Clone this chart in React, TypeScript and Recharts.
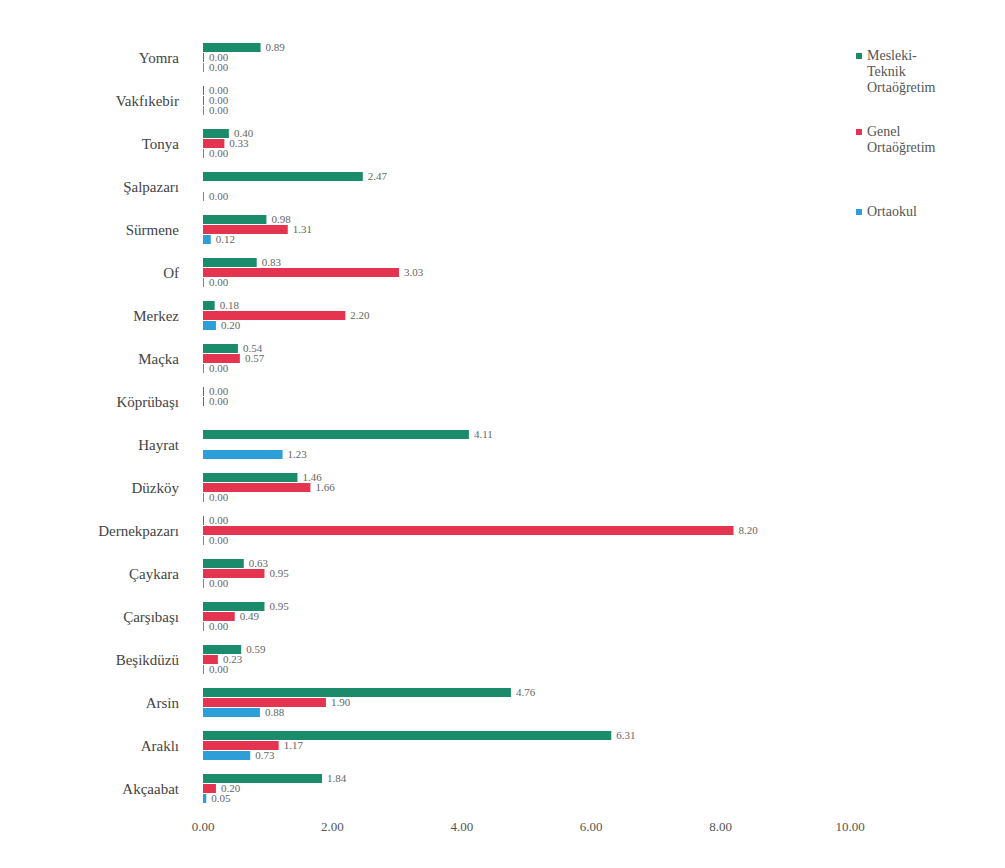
import { BarChart, Bar, XAxis, YAxis, LabelList } from "recharts";

const districts = [
  "Yomra", "Vakfıkebir", "Tonya", "Şalpazarı", "Sürmene", "Of", "Merkez", "Maçka", "Köprübaşı",
  "Hayrat", "Düzköy", "Dernekpazarı", "Çaykara", "Çarşıbaşı", "Beşikdüzü", "Arsin", "Araklı", "Akçaabat",
];
const mesleki = [0.89, 0, 0.4, 2.47, 0.98, 0.83, 0.18, 0.54, 0, 4.11, 1.46, 0, 0.63, 0.95, 0.59, 4.76, 6.31, 1.84];
const genel = [0, 0, 0.33, null, 1.31, 3.03, 2.2, 0.57, 0, null, 1.66, 8.2, 0.95, 0.49, 0.23, 1.9, 1.17, 0.2];
const ortaokul = [0, 0, 0, 0, 0.12, 0, 0.2, 0, null, 1.23, 0, 0, 0, 0, 0, 0.88, 0.73, 0.05];
const xTicks = [0, 2, 4, 6, 8, 10];

const GREEN = "#1b8c6b";
const RED = "#e5344f";
const BLUE = "#2c9fd8";

const data = districts.map((name, i) => ({
  name,
  mesleki: mesleki[i],
  genel: genel[i],
  ortaokul: ortaokul[i],
}));

const fmt = (v: any) => (v === null || v === undefined ? "" : Number(v).toFixed(2));
// zero values still get a hairline so their "0.00" label is drawn
const minSize = (v: any) => (v === 0 ? 1 : 0);

const legendItems = [
  { color: GREEN, lines: ["Mesleki-", "Teknik", "Ortaöğretim"], h: 76 },
  { color: RED, lines: ["Genel", "Ortaöğretim"], h: 80 },
  { color: BLUE, lines: ["Ortaokul"], h: 20 },
];

// legend kept outside the chart so it does not eat plot width
function ChartLegend() {
  return (
    <div
      style={{
        position: "absolute",
        left: 856,
        top: 48,
        width: 145,
        fontFamily: "Liberation Serif",
        fontSize: 14,
        color: "#555",
      }}
    >
      {legendItems.map((it) => (
        <div key={it.lines[0]} style={{ display: "flex", height: it.h, lineHeight: "16px" }}>
          <span
            style={{
              width: 6,
              height: 6,
              background: it.color,
              marginTop: 5,
              marginRight: 5,
              flexShrink: 0,
            }}
          />
          <div>
            {it.lines.map((l) => (
              <div key={l}>{l}</div>
            ))}
          </div>
        </div>
      ))}
    </div>
  );
}

const labelStyle = { fill: "#666", fontSize: 11, fontFamily: "Liberation Serif" };

export default function App() {
  return (
    <div
      style={{
        margin: -8,
        width: 1005,
        height: 868,
        background: "#fff",
        position: "relative",
      }}
    >
      <BarChart
        width={1005}
        height={868}
        data={data}
        layout="vertical"
        margin={{ top: 36, right: 155, left: 0, bottom: 28 }}
        barSize={9}
        barGap={1}
      >
        <XAxis
          type="number"
          domain={[0, 10]}
          ticks={xTicks}
          tickFormatter={(v) => Number(v).toFixed(2)}
          axisLine={false}
          tickLine={false}
          tick={{ fill: "#555", fontSize: 13, fontFamily: "Liberation Serif" }}
          tickMargin={6}
        />
        <YAxis
          type="category"
          dataKey="name"
          width={203}
          axisLine={false}
          tickLine={false}
          tickMargin={18}
          interval={0}
          tick={{ fill: "#444", fontSize: 15, fontFamily: "Liberation Serif" }}
        />
        <Bar dataKey="mesleki" fill={GREEN} minPointSize={minSize} isAnimationActive={false}>
          <LabelList dataKey="mesleki" position="right" formatter={fmt} style={labelStyle} />
        </Bar>
        <Bar dataKey="genel" fill={RED} minPointSize={minSize} isAnimationActive={false}>
          <LabelList dataKey="genel" position="right" formatter={fmt} style={labelStyle} />
        </Bar>
        <Bar dataKey="ortaokul" fill={BLUE} minPointSize={minSize} isAnimationActive={false}>
          <LabelList dataKey="ortaokul" position="right" formatter={fmt} style={labelStyle} />
        </Bar>
      </BarChart>
      <ChartLegend />
      <div
        style={{
          position: "absolute",
          left: 3,
          top: 3,
          width: 998,
          height: 860,
          border: "1px solid #999",
          boxSizing: "border-box",
          pointerEvents: "none",
        }}
      />
    </div>
  );
}
